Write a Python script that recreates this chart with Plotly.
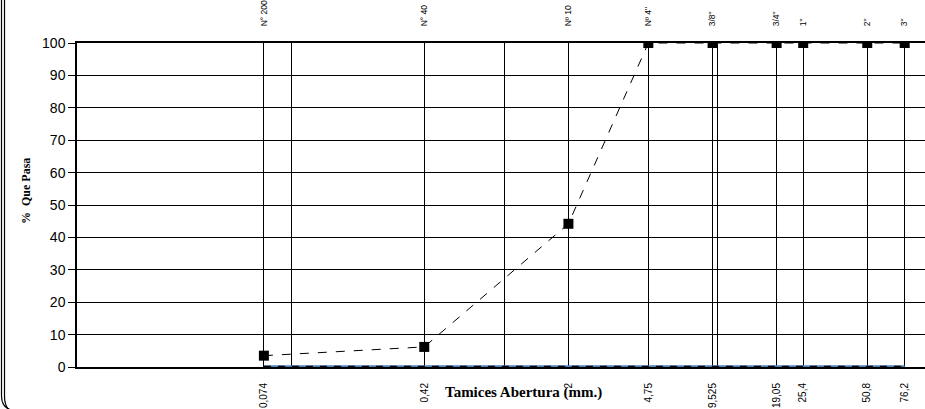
import plotly.graph_objects as go

sizes = [0.074, 0.42, 2, 4.75, 9.525, 19.05, 25.4, 50.8, 76.2]
size_labels = ["0,074", "0,42", "2", "4,75", "9,525", "19,05", "25,4", "50,8", "76,2"]
sieve_names = ["N° 200", "N° 40", "Nº 10", "Nº 4\"", "3/8\"", "3/4\"", "1\"", "2\"", "3\""]
pct_pass = [3.5, 6.2, 44.2, 100, 100, 100, 100, 100, 100]
zero_line = [0, 0, 0, 0, 0, 0, 0, 0, 0]
extra_grid = [0.1, 1, 10]
y_ticks = [0, 10, 20, 30, 40, 50, 60, 70, 80, 90, 100]

W, H = 925, 409
ML, MR, MT, MB = 77, 0, 43, 42
pw = W - ML - MR
ph = H - MT - MB
ppd = 212.7
x0 = -2 - 2 / ppd
xr = [x0, x0 + pw / ppd]

fig = go.Figure()
fig.add_trace(go.Scatter(x=sizes, y=zero_line, mode="lines",
                         line=dict(color="#4F81BD", width=3.5), showlegend=False))
fig.add_trace(go.Scatter(x=sizes, y=zero_line, mode="lines",
                         line=dict(color="black", width=2.5, dash="7px,7px"), showlegend=False))
fig.add_trace(go.Scatter(x=sizes, y=pct_pass, mode="lines+markers",
                         line=dict(color="black", width=1, dash="dash"),
                         marker=dict(symbol="square", size=10, color="black"),
                         showlegend=False))
fig.add_trace(go.Scatter(x=sizes, y=pct_pass, xaxis="x2", mode="markers",
                         marker=dict(opacity=0), showlegend=False, hoverinfo="skip"))

fig.update_layout(
    width=W, height=H,
    margin=dict(l=ML, r=MR, t=MT, b=MB, autoexpand=False),
    paper_bgcolor="white", plot_bgcolor="white",
    font=dict(family="Arial, Liberation Sans", color="black"),
    xaxis=dict(type="log", range=xr, automargin=False,
               tickvals=sizes + extra_grid,
               ticktext=size_labels + ["", "", ""],
               tickangle=-90, tickfont=dict(size=10, family="Arial, Liberation Sans"),
               ticks="", ticklabelstandoff=10,
               showgrid=True, gridcolor="black", gridwidth=1,
               showline=True, linecolor="black", linewidth=2,
               zeroline=False),
    xaxis2=dict(type="log", range=xr, overlaying="x", side="top", automargin=False,
                tickvals=sizes, ticktext=sieve_names, tickangle=-90,
                tickfont=dict(size=8.5, family="Arial, Liberation Sans"),
                ticks="", ticklabelstandoff=13, showgrid=False,
                showline=True, linecolor="black", linewidth=2, zeroline=False),
    yaxis=dict(range=[0, 100], tickvals=y_ticks, automargin=False,
               tickfont=dict(size=14, family="Arial, Liberation Sans"),
               ticks="outside", ticklen=7, tickcolor="black",
               showgrid=True, gridcolor="black", gridwidth=1,
               showline=True, linecolor="black", linewidth=1.5, zeroline=False),
)

# axis titles
fig.add_annotation(text="<b>%  Que Pasa</b>", xref="paper", yref="paper",
                   x=(17 - ML) / pw, y=(H - MB - 191) / ph, textangle=-90,
                   showarrow=False, font=dict(family="Liberation Serif, DejaVu Serif", size=12))
fig.add_annotation(text="<b>Tamices Abertura (mm.)</b>", xref="paper", yref="paper",
                   x=(443 - ML) / pw, xanchor="left", y=(H - MB - 403) / ph,
                   showarrow=False, font=dict(family="Liberation Serif, DejaVu Serif", size=15))

# chart-area frame (left edge with rounded corner)
def px(xp):
    return (xp - ML) / pw

def py(yp):
    return (H - MB - yp) / ph

for off in (1.5, 4.5):
    path = (f"M {px(off)},{py(-5)} L {px(off)},{py(396)} "
            f"Q {px(off)},{py(407 + off)} {px(off + 12)},{py(409 + off)}")
    fig.add_shape(type="path", path=path, xref="paper", yref="paper",
                  line=dict(color="black", width=1.2))

fig.write_html("out.html", config={"displayModeBar": False},
               post_script="document.body.style.margin='0';document.body.style.overflow='hidden';")
